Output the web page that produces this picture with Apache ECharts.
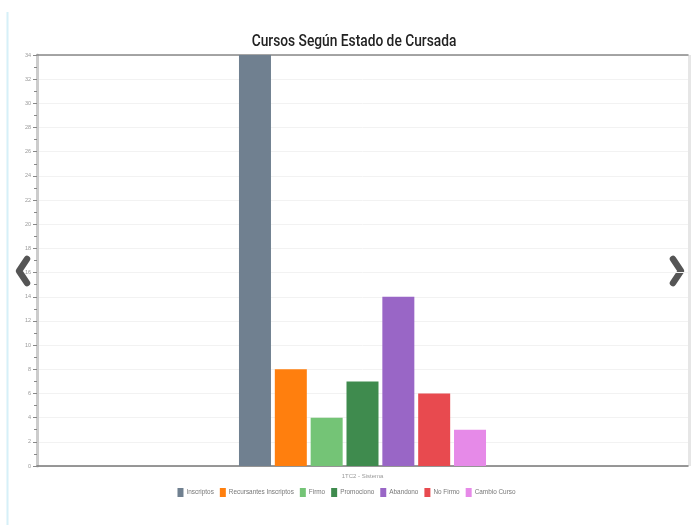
<!DOCTYPE html>
<html><head><meta charset="utf-8">
<script src="https://cdn.jsdelivr.net/npm/echarts@6/dist/echarts.min.js"></script>
<style>html,body{margin:0;padding:0;background:#fff}#c{width:693px;height:525px}</style>
</head><body><div id="c"></div>
<script>
const titleText = 'Cursos Según Estado de Cursada';
const categories = ['1TC2 - Sistema'];
const seriesNames = ['Inscriptos','Recursantes Inscriptos','Firmo','Promociono','Abandono','No Firmo','Cambio Curso'];
const seriesValues = [34, 8, 4, 7, 14, 6, 3];
const seriesColors = ['#708090','#ff7f0e','#74c476','#3f8b4e','#9966c6','#e84a4f','#e68ae8'];
const yTicks = {min: 0, max: 34, interval: 2};

const chart = echarts.init(document.getElementById('c'));
chart.setOption({
  animation: false,
  grid: {left: 37, right: 5, top: 55, bottom: 59},
  legend: {bottom: 23, left: 'center', itemWidth: 6, itemHeight: 9, itemGap: 6,
    textStyle: {fontSize: 6.4, color: '#777', padding: [0,0,0,-2]},
    data: seriesNames, icon: 'rect'},
  xAxis: [{type: 'category', data: categories,
    axisLine: {lineStyle: {color: '#777', width: 1.5}},
    axisTick: {alignWithLabel: true, length: 3, lineStyle: {color: '#aaa'}},
    axisLabel: {fontSize: 6, color: '#999', margin: 7}},
    {type: 'category', data: categories, position: 'top', axisLine: {show: true, lineStyle: {color: '#888', width: 1.5}},
     axisTick: {show: false}, axisLabel: {show: false}}],
  yAxis: {type: 'value', min: yTicks.min, max: yTicks.max, interval: yTicks.interval,
    axisLine: {show: true, lineStyle: {color: '#ccc', width: 3}},
    axisTick: {show: true, inside: false, length: 4, lineStyle: {color: '#888'}},
    minorTick: {show: true, splitNumber: 2, length: 3, lineStyle: {color: '#888'}},
    splitLine: {lineStyle: {color: '#f2f2f2'}},
    axisLabel: {fontSize: 5.5, color: '#999', margin: 6}},
  series: seriesNames.map((n, i) => ({
    name: n, type: 'bar', data: [seriesValues[i]], barWidth: 32, barGap: '12%',
    itemStyle: {color: seriesColors[i]}
  })),
  graphic: [
    {type: 'text', x: 354, y: 42, scaleX: 0.86, style: {text: titleText, fontSize: 16, fontFamily: 'Roboto, sans-serif', fontWeight: 500, fill: '#222', align: 'center', verticalAlign: 'middle'}},
    {type: 'line', shape: {x1: 7.5, y1: 12, x2: 7.5, y2: 525}, style: {stroke: '#d6f0f8', lineWidth: 2}},
    {type: 'rect', shape: {x: 688, y: 55, width: 3, height: 411}, style: {fill: '#e6e6e6'}},
    {type: 'polyline', shape: {points: [[27, 259], [19, 271], [27, 283]]}, style: {stroke: '#555', lineWidth: 6.5, fill: null, lineJoin: 'round', lineCap: 'round'}},
    {type: 'polyline', shape: {points: [[673, 259], [681, 271], [673, 283]]}, style: {stroke: '#555', lineWidth: 6.5, fill: null, lineJoin: 'round', lineCap: 'round'}}
  ]
});
</script></body></html>
